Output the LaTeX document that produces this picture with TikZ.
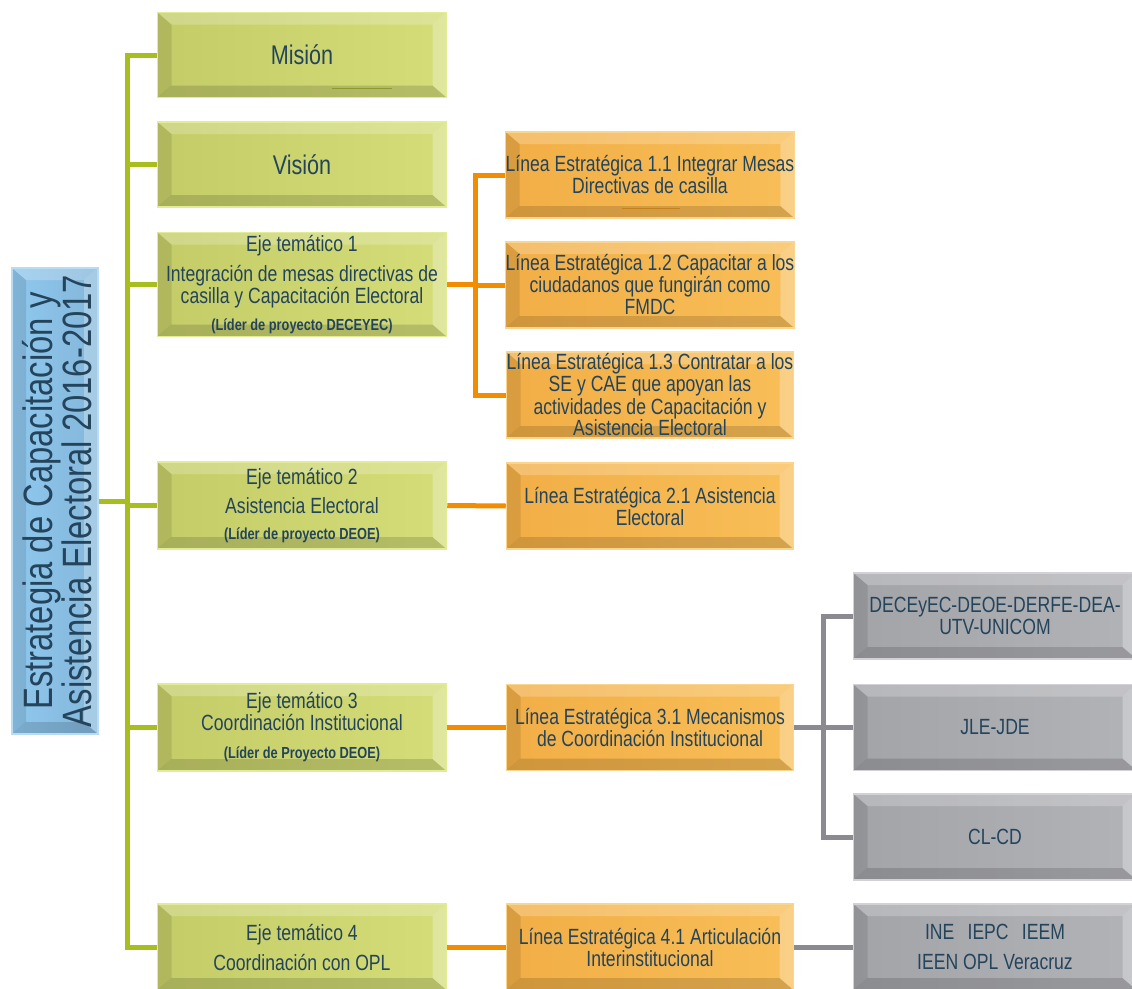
\documentclass[tikz,border=0pt]{standalone}
\usepackage{fontspec}
\setmainfont[FakeStretch=0.80]{Liberation Sans}
\newcommand\leadfont{\bfseries\fontsize{16}{17}\selectfont}
\definecolor{txt}{HTML}{24445C}
\definecolor{gline}{HTML}{A8BD1E}
\definecolor{oline}{HTML}{F28C00}
\definecolor{kline}{HTML}{8A8A90}
\definecolor{gL}{HTML}{C4CC68}
\definecolor{gR}{HTML}{D4DD78}
\definecolor{gB}{HTML}{E2EC95}
\definecolor{oL}{HTML}{F2AE46}
\definecolor{oR}{HTML}{F8BE58}
\definecolor{oB}{HTML}{FAD58E}
\definecolor{kL}{HTML}{A3A4A8}
\definecolor{kR}{HTML}{B2B3B7}
\definecolor{kB}{HTML}{D2D2D6}
\definecolor{bL}{HTML}{8FC8EE}
\definecolor{bR}{HTML}{84B6DA}
\definecolor{bB}{HTML}{B8DCF4}
\tikzset{
  bevel/.style={path picture={
    \coordinate (pSW) at (path picture bounding box.south west);
    \coordinate (pSE) at (path picture bounding box.south east);
    \coordinate (pNW) at (path picture bounding box.north west);
    \coordinate (pNE) at (path picture bounding box.north east);
    \fill[black,opacity=.10] (pSW) -- (pNW) -- ([shift={(14pt,-12pt)}]pNW) -- ([shift={(14pt,12pt)}]pSW) -- cycle;
    \fill[black,opacity=.14] (pSW) -- ([shift={(14pt,12pt)}]pSW) -- ([shift={(-14pt,12pt)}]pSE) -- (pSE) -- cycle;
    \fill[white,opacity=.22] (pNW) -- (pNE) -- ([shift={(-14pt,-12pt)}]pNE) -- ([shift={(14pt,-12pt)}]pNW) -- cycle;
    \fill[white,opacity=.28] (pNE) -- (pSE) -- ([shift={(-14pt,12pt)}]pSE) -- ([shift={(-14pt,-12pt)}]pNE) -- cycle;
  }},
  gbox/.style={rectangle, bevel, left color=gL, right color=gR, draw=gB, line width=1.5pt,
    minimum width=289pt, minimum height=85pt, inner sep=1pt, text=txt, align=center,
    font=\fontsize{22}{22}\selectfont},
  obox/.style={rectangle, bevel, left color=oL, right color=oR, draw=oB, line width=1.5pt,
    minimum width=287pt, minimum height=86pt, inner sep=0pt, text=txt, align=center,
    font=\fontsize{22}{22}\selectfont},
  kbox/.style={rectangle, bevel, left color=kL, right color=kR, draw=kB, line width=1.5pt,
    minimum width=283pt, minimum height=86pt, inner sep=0pt, text=txt, align=center,
    font=\fontsize{22}{22}\selectfont},
  bbox/.style={rectangle, bevel, left color=bL, right color=bR, draw=bB, line width=1.5pt,
    minimum width=86pt, minimum height=466pt},
  gcon/.style={draw=gline, line width=5pt},
  ocon/.style={draw=oline, line width=5pt},
  kcon/.style={draw=kline, line width=5pt}
}
\begin{document}
\begin{tikzpicture}[x=1pt,y=-1pt]
\useasboundingbox[fill=white] (0,0) rectangle (1132,988);
\coordinate (tk) at (127,0);
\coordinate (ok) at (475,0);
\coordinate (gk) at (823,0);
% root
\node[bbox] (root) at (55,501) {};
\node[rotate=90, align=center, text=txt, font=\fontsize{41}{39}\selectfont] (roottext) at ([xshift=2pt]root.center) {Estrategia de Capacitación y\\Asistencia Electoral 2016-2017};
% green boxes
\node[gbox] (mision) at (302,55) {\fontsize{27}{28}\selectfont Misión};
\node[gbox] (vision) at (302,164.5) {\fontsize{27}{28}\selectfont Visión};
\node[gbox, minimum height=104pt] (eje1) at (302,284.5) {Eje temático 1\\[8pt]Integración de mesas directivas de\\casilla y Capacitación Electoral\\[5pt]{\leadfont (Líder de proyecto DECEYEC)}};
\node[gbox, minimum height=87pt] (eje2) at (302,505.5) {Eje temático 2\\[7pt]Asistencia Electoral\\[4pt]{\leadfont (Líder de proyecto DEOE)}};
\node[gbox, minimum height=87pt] (eje3) at (302,727.5) {Eje temático 3\\Coordinación Institucional\\[6pt]{\leadfont (Líder de Proyecto DEOE)}};
\node[gbox, minimum height=86pt] (eje4) at (302,947) {Eje temático 4\\[8pt]Coordinación con OPL};
% orange boxes
\node[obox] (l11) at (650,175) {Línea Estratégica 1.1 Integrar Mesas\\Directivas de casilla};
\node[obox] (l12) at (650,285) {Línea Estratégica 1.2 Capacitar a los\\ciudadanos que fungirán como\\FMDC};
\node[obox] (l13) at (650,395) {Línea Estratégica 1.3 Contratar a los\\SE y CAE que apoyan las\\actividades de Capacitación y\\Asistencia Electoral};
\node[obox] (l21) at (650,506) {Línea Estratégica 2.1 Asistencia\\Electoral};
\node[obox] (l31) at (650,727.5) {Línea Estratégica 3.1 Mecanismos\\de Coordinación Institucional};
\node[obox] (l41) at (650,947) {Línea Estratégica 4.1 Articulación\\Interinstitucional};
% gray boxes
\node[kbox] (k1) at (995,616) {DECEyEC-DEOE-DERFE-DEA-\\UTV-UNICOM};
\node[kbox] (k2) at (995,727.5) {JLE-JDE};
\node[kbox] (k3) at (995,837) {CL-CD};
\node[kbox] (k4) at (995,947) {INE\hspace{0.6em}IEPC\hspace{0.6em}IEEM\\[8pt]IEEN OPL Veracruz};
% small underline marks
\draw[draw=gline!70!black, line width=1pt, opacity=.6] ([xshift=30pt,yshift=-33pt]mision.center) -- ([xshift=90pt,yshift=-33pt]mision.center);
\draw[draw=oline!80!black, line width=1pt, opacity=.6] ([xshift=-28pt,yshift=-33pt]l11.center) -- ([xshift=30pt,yshift=-33pt]l11.center);
% green connectors
\draw[gcon] (root.east) -- (root.east -| tk);
\draw[gcon] (mision.west) -- (mision.west -| tk) -- (eje4.west -| tk) -- (eje4.west);
\draw[gcon] (vision.west) -- (vision.west -| tk);
\draw[gcon] (eje1.west) -- (eje1.west -| tk);
\draw[gcon] (eje2.west) -- (eje2.west -| tk);
\draw[gcon] (eje3.west) -- (eje3.west -| tk);
% orange connectors
\draw[ocon] (eje1.east) -- (eje1.east -| ok);
\draw[ocon] (l11.west) -- (l11.west -| ok) -- (l13.west -| ok) -- (l13.west);
\draw[ocon] (l12.west) -- (l12.west -| ok);
\draw[ocon] (eje2.east) -- (l21.west);
\draw[ocon] (eje3.east) -- (l31.west);
\draw[ocon] (eje4.east) -- (l41.west);
% gray connectors
\draw[kcon] (l31.east) -- (l31.east -| gk);
\draw[kcon] (k1.west) -- (k1.west -| gk) -- (k3.west -| gk) -- (k3.west);
\draw[kcon] (k2.west) -- (k2.west -| gk);
\draw[kcon] (l41.east) -- (k4.west);
\end{tikzpicture}
\end{document}
